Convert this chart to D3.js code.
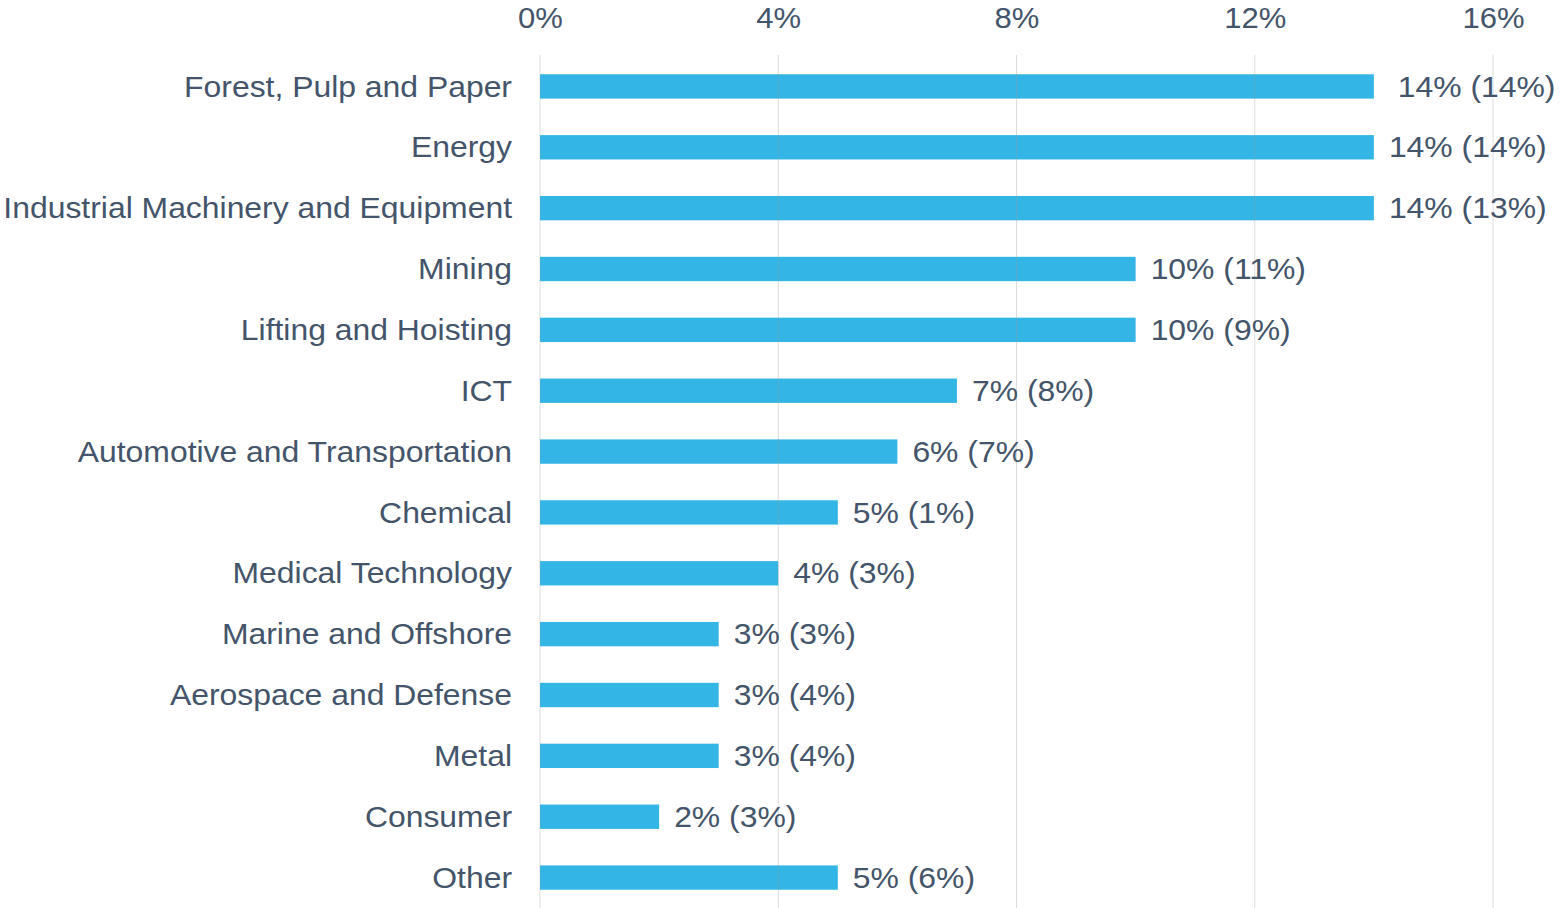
<!DOCTYPE html>
<html>
<head>
<meta charset="utf-8">
<script src="https://cdn.jsdelivr.net/npm/d3@7"></script>
<style>
  body { margin: 0; background: #fff; }
  text { font-family: "Liberation Sans", Arial, sans-serif; fill: #44546a; white-space: pre; }
</style>
</head>
<body>
<div id="chart"></div>
<script>
// categories top to bottom
var categories = ["Forest, Pulp and Paper", "Energy", "Industrial Machinery and Equipment",
    "Mining", "Lifting and Hoisting", "ICT", "Automotive and Transportation", "Chemical",
    "Medical Technology", "Marine and Offshore", "Aerospace and Defense", "Metal",
    "Consumer", "Other"];
// current share (%)
var values = [14, 14, 14, 10, 10, 7, 6, 5, 4, 3, 3, 3, 2, 5];
// previous share shown in brackets
var previous = [14, 14, 13, 11, 9, 8, 7, 1, 3, 3, 4, 4, 3, 6];
var ticks = [0, 4, 8, 12, 16];

var width = 1562, height = 908;
var margin = { top: 55, right: 69, bottom: 0, left: 540 };
var fontSize = 29,
    stretch = 1.1;   // text in the original is a bit wider than plain Arial

var svg = d3.select("#chart").append("svg")
    .attr("width", width)
    .attr("height", height);

// x scale: 0..16 % mapped onto the plot area
var x = d3.scaleLinear()
    .domain([0, 16])
    .range([margin.left, 1493]);

// y bands, one per category
var y = d3.scaleBand()
    .domain(categories)
    .range([56, 908])
    .paddingInner(0.6)
    .paddingOuter(0.3);

// bars
svg.selectAll(".bar")
    .data(categories)
    .enter().append("rect")
    .attr("class", "bar")
    .attr("x", x(0))
    .attr("y", function (d) { return y(d); })
    .attr("width", function (d, i) { return x(values[i]) - x(0); })
    .attr("height", y.bandwidth())
    .attr("fill", "#33b6e6");

// gridlines drawn on top, light and translucent
svg.selectAll(".grid")
    .data(ticks)
    .enter().append("line")
    .attr("class", "grid")
    .attr("x1", function (d) { return x(d); })
    .attr("x2", function (d) { return x(d); })
    .attr("y1", margin.top)
    .attr("y2", height)
    .attr("stroke", "#9a9a9a")
    .attr("stroke-opacity", 0.35)
    .attr("stroke-width", 1);

// top axis tick labels
var xAxis = d3.axisTop(x)
    .tickValues(ticks)
    .tickSize(0)
    .tickFormat(function (d) { return d + "%"; });

var axisG = svg.append("g")
    .attr("transform", "translate(0,28)")
    .call(xAxis);
axisG.select(".domain").remove();
axisG.selectAll("text")
    .attr("y", 0)
    .attr("dy", 0)
    .attr("transform", "scale(1.07,1)")
    .attr("font-size", fontSize)
    .style("font-family", "'Liberation Sans', Arial, sans-serif")
    .attr("fill", "#44546a");

// category labels
svg.selectAll(".cat")
    .data(categories)
    .enter().append("text")
    .attr("class", "cat")
    .attr("transform", function (d) {
        return "translate(512," + (y(d) + y.bandwidth() / 2) + ") scale(" + stretch + ",1)";
    })
    .attr("dy", "0.35em")
    .attr("text-anchor", "end")
    .attr("font-size", fontSize)
    .text(function (d) { return d; });

// value labels
svg.selectAll(".val")
    .data(categories)
    .enter().append("text")
    .attr("class", "val")
    .attr("transform", function (d, i) {
        return "translate(" + (x(values[i]) + 15) + "," + (y(d) + y.bandwidth() / 2) + ") scale(" + stretch + ",1)";
    })
    .attr("dy", "0.35em")
    .attr("font-size", fontSize)
    .text(function (d, i) {
        var s = values[i] + "% (" + previous[i] + "%)";
        return i === 0 ? " " + s : s;
    });
</script>
</body>
</html>
